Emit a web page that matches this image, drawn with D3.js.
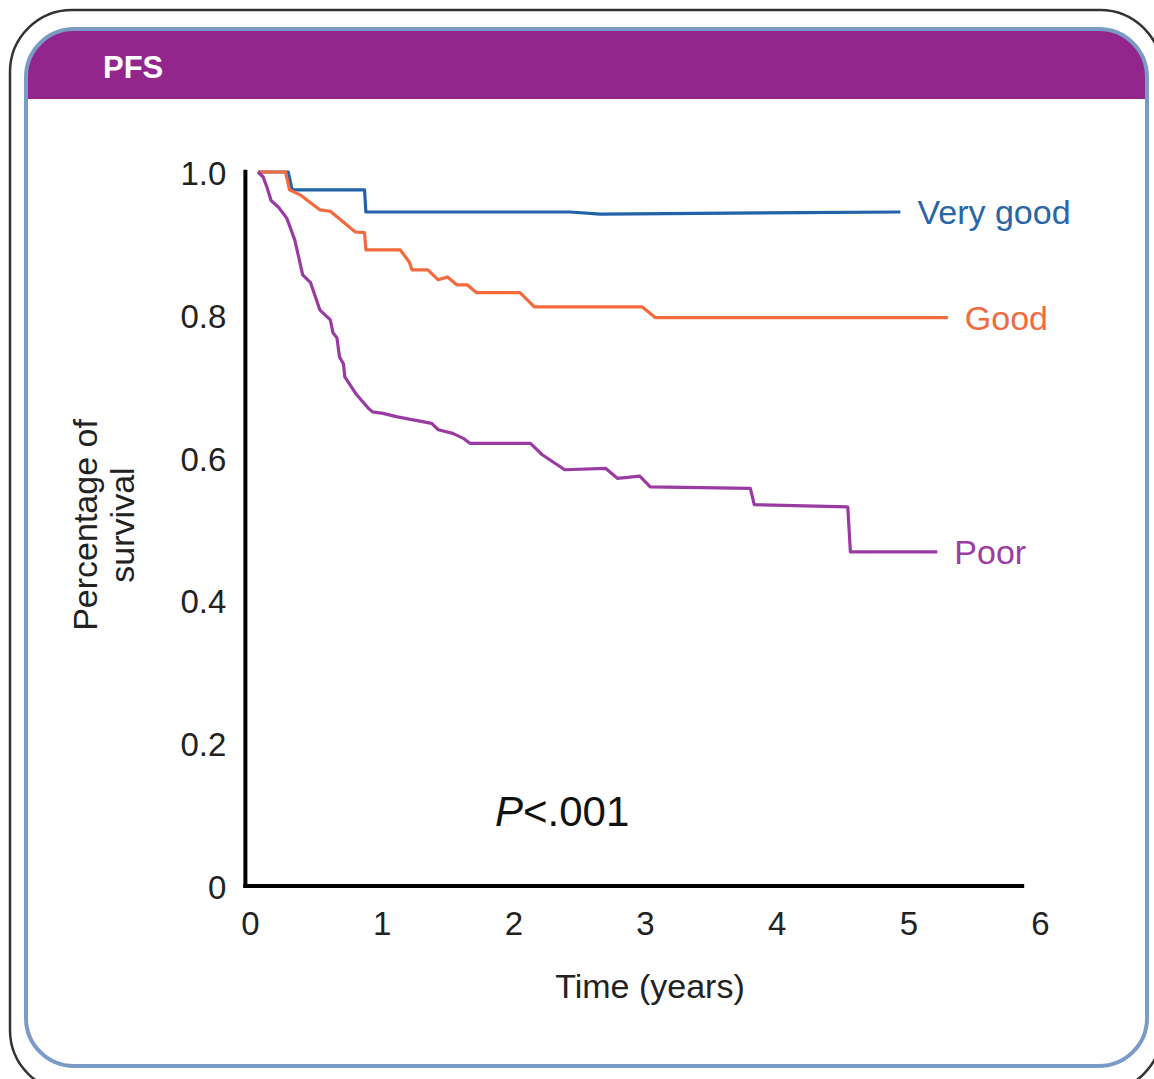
<!DOCTYPE html>
<html>
<head>
<meta charset="utf-8">
<script src="https://cdn.jsdelivr.net/npm/d3@7/dist/d3.min.js"></script>
<style>
  body { margin: 0; background: #fff; }
  svg { display: block; font-family: 'Liberation Sans', Arial, sans-serif; }
</style>
</head>
<body>
<svg id="chart" width="1154" height="1079"></svg>
<script>
// series names and Kaplan-Meier points: [years, survival]
const seriesNames = ['Very good', 'Good', 'Poor'];
const veryGood = [
  [0.06, 1.0], [0.29, 1.0], [0.32, 0.975], [0.87, 0.975], [0.88, 0.944],
  [2.43, 0.944], [2.66, 0.941], [4.18, 0.943], [4.94, 0.944]
];
const good = [
  [0.06, 1.0], [0.27, 1.0], [0.30, 0.975], [0.38, 0.968], [0.53, 0.947], [0.61, 0.945],
  [0.80, 0.916], [0.87, 0.915], [0.88, 0.891], [1.14, 0.891], [1.21, 0.874], [1.23, 0.863],
  [1.35, 0.863], [1.43, 0.849], [1.50, 0.853], [1.57, 0.842], [1.65, 0.842], [1.72, 0.831],
  [2.05, 0.831], [2.16, 0.811], [2.98, 0.811], [3.08, 0.796], [5.30, 0.796]
];
const poor = [
  [0.06, 1.0], [0.10, 0.993], [0.13, 0.978], [0.16, 0.960], [0.22, 0.950], [0.28, 0.935],
  [0.34, 0.905], [0.40, 0.856], [0.46, 0.845], [0.53, 0.807], [0.61, 0.793], [0.63, 0.775],
  [0.66, 0.768], [0.68, 0.741], [0.71, 0.731], [0.72, 0.713], [0.81, 0.688], [0.90, 0.669],
  [0.93, 0.664], [1.01, 0.662], [1.12, 0.657], [1.38, 0.648], [1.43, 0.639], [1.54, 0.634],
  [1.62, 0.627], [1.67, 0.620], [2.13, 0.620], [2.22, 0.604], [2.39, 0.583], [2.70, 0.585],
  [2.79, 0.571], [2.96, 0.574], [3.04, 0.559], [3.80, 0.557], [3.83, 0.534], [4.54, 0.531],
  [4.56, 0.468], [5.22, 0.468]
];
const xTicks = [0, 1, 2, 3, 4, 5, 6];
const yTicks = [0, 0.2, 0.4, 0.6, 0.8, 1.0];
const yTickLabels = ['0', '0.2', '0.4', '0.6', '0.8', '1.0'];
const xAxisExtent = [-0.035, 5.88];
const yAxisTop = 1.003;

const colors = ['#2263a8', '#f36a3d', '#9a3ba2'];
const labelColors = ['#2a65a8', '#f26b3f', '#9b3ca3'];

const svg = d3.select('#chart');

// frame
svg.append('rect')
  .attr('x', 10).attr('y', 10).attr('width', 1152).attr('height', 1082)
  .attr('rx', 62).attr('ry', 62)
  .attr('fill', 'none').attr('stroke', '#333').attr('stroke-width', 2.5);

svg.append('clipPath').attr('id', 'panelClip')
  .append('rect')
  .attr('x', 26).attr('y', 29).attr('width', 1121).attr('height', 1037)
  .attr('rx', 48).attr('ry', 48);

svg.append('rect')
  .attr('x', 26).attr('y', 29).attr('width', 1121).attr('height', 1037)
  .attr('rx', 48).attr('ry', 48)
  .attr('fill', '#fff');

svg.append('rect')
  .attr('clip-path', 'url(#panelClip)')
  .attr('x', 26).attr('y', 29).attr('width', 1121).attr('height', 70)
  .attr('fill', '#93268c');

svg.append('rect')
  .attr('x', 26).attr('y', 29).attr('width', 1121).attr('height', 1037)
  .attr('rx', 48).attr('ry', 48)
  .attr('fill', 'none').attr('stroke', '#7a9bc6').attr('stroke-width', 4);

svg.append('text')
  .attr('x', 103).attr('y', 78)
  .attr('fill', '#fff')
  .attr('font-weight', 'bold')
  .attr('font-size', '31px')
  .text('PFS');

// scales
const xScale = d3.scaleLinear().domain([0, 6]).range([250, 1040]);
const yScale = d3.scaleLinear().domain([0, 1]).range([886, 172]);

// axis lines
svg.append('line')
  .attr('x1', xScale(xAxisExtent[0])).attr('x2', xScale(xAxisExtent[0]))
  .attr('y1', yScale(yAxisTop)).attr('y2', yScale(0) + 2)
  .attr('stroke', '#000').attr('stroke-width', 4);

svg.append('line')
  .attr('x1', xScale(xAxisExtent[0]) - 2).attr('x2', xScale(xAxisExtent[1]))
  .attr('y1', yScale(0)).attr('y2', yScale(0))
  .attr('stroke', '#000').attr('stroke-width', 4);

// tick labels via d3 axes, no tick marks
const xAxis = svg.append('g')
  .attr('transform', `translate(0,${yScale(0)})`)
  .call(d3.axisBottom(xScale).tickValues(xTicks).tickSize(0).tickPadding(26)
    .tickFormat(d3.format('d')));
xAxis.select('.domain').remove();
xAxis.selectAll('text')
  .attr('font-size', '33px')
  .attr('font-family', "'Liberation Sans', Arial, sans-serif")
  .attr('fill', '#222');

const yAxis = svg.append('g')
  .attr('transform', `translate(${xScale(xAxisExtent[0]) - 19},0)`)
  .call(d3.axisLeft(yScale).tickValues(yTicks).tickSize(0).tickPadding(0)
    .tickFormat((d, i) => yTickLabels[i]));
yAxis.select('.domain').remove();
yAxis.selectAll('text')
  .attr('font-size', '33px')
  .attr('font-family', "'Liberation Sans', Arial, sans-serif")
  .attr('fill', '#222')
  .attr('dy', '0.38em');

// axis titles
svg.append('text')
  .attr('x', 650).attr('y', 998)
  .attr('text-anchor', 'middle')
  .attr('font-size', '34px')
  .attr('fill', '#222')
  .text('Time (years)');

const yTitle = svg.append('text')
  .attr('transform', 'translate(97,525) rotate(-90)')
  .attr('text-anchor', 'middle')
  .attr('font-size', '34px')
  .attr('fill', '#222');
yTitle.append('tspan').attr('x', 0).attr('dy', 0).text('Percentage of');
yTitle.append('tspan').attr('x', 0).attr('dy', '1.1em').text('survival');

// curves
const line = d3.line().x(d => xScale(d[0])).y(d => yScale(d[1]));
const allSeries = [veryGood, good, poor];

allSeries.forEach((s, i) => {
  svg.append('path')
    .datum(s)
    .attr('d', line)
    .attr('fill', 'none')
    .attr('stroke', colors[i])
    .attr('stroke-width', 3.2)
    .attr('stroke-linejoin', 'round');

  const last = s[s.length - 1];
  svg.append('text')
    .attr('x', xScale(last[0]) + 17)
    .attr('y', yScale(last[1]))
    .attr('dy', '0.35em')
    .attr('font-size', '34px')
    .attr('fill', labelColors[i])
    .text(seriesNames[i]);
});

// p-value
const pText = svg.append('text')
  .attr('x', 495).attr('y', 826)
  .attr('font-size', '42px')
  .attr('fill', '#111');
pText.append('tspan').attr('font-style', 'italic').text('P');
pText.append('tspan').text('<.001');
</script>
</body>
</html>
